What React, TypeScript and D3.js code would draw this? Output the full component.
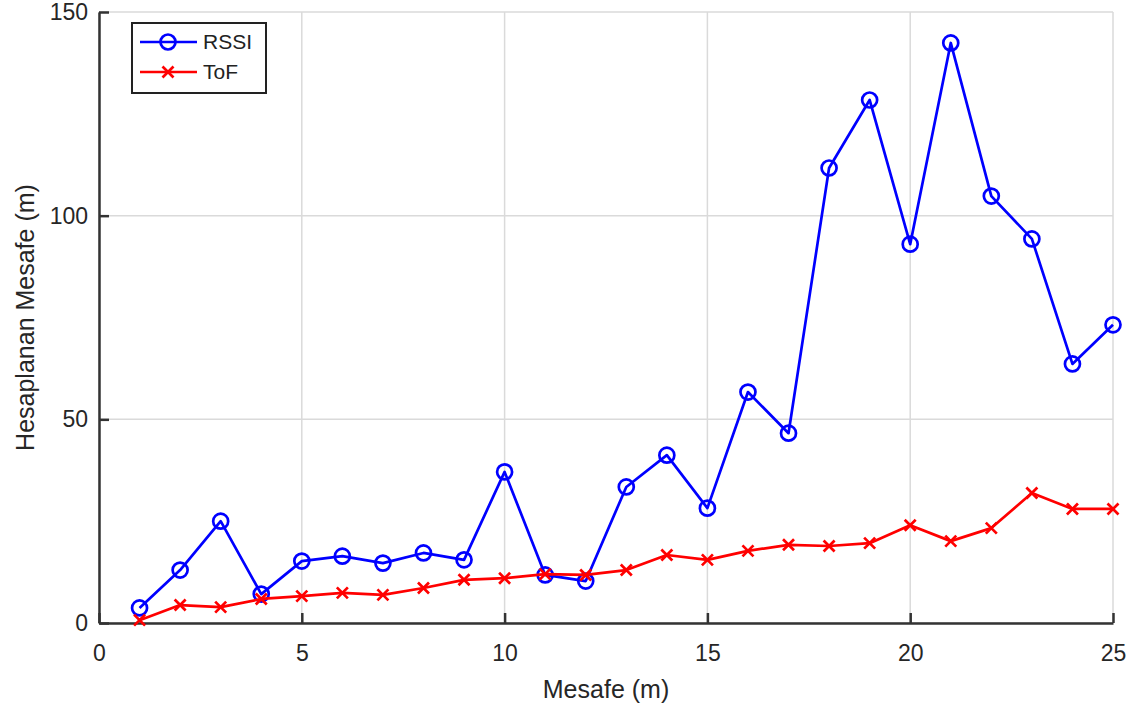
import React, { useEffect, useRef } from 'react';
import * as d3 from 'd3';

// Mesafe (m)
const distances = [1, 2, 3, 4, 5, 6, 7, 8, 9, 10, 11, 12, 13, 14, 15, 16, 17, 18, 19, 20, 21, 22, 23, 24, 25];
const rssiValues = [3.7, 13, 25, 7.1, 15.2, 16.4, 14.7, 17.2, 15.5, 37.1, 11.8, 10.3, 33.4, 41.2, 28.2, 56.7, 46.6, 111.7, 128.4, 93, 142.4, 104.8, 94.3, 63.6, 73.2];
const tofValues = [0.7, 4.4, 3.9, 5.9, 6.6, 7.4, 6.9, 8.6, 10.6, 11, 12, 11.8, 13, 16.7, 15.5, 17.7, 19.2, 18.9, 19.6, 24, 20.1, 23.3, 31.9, 28, 28];
const xTicks = [0, 5, 10, 15, 20, 25];
const yTicks = [0, 50, 100, 150];

const App = () => {
  const svgRef = useRef<SVGSVGElement>(null);

  useEffect(() => {
    const svg = d3.select(svgRef.current);
    svg.selectAll('*').remove();

    const left = 99, right = 1113, top = 12, bottom = 623;
    const font = 'Liberation Sans, Arial, sans-serif';
    const textColor = '#262626';

    const x = d3.scaleLinear().domain([0, 25]).range([left, right]);
    const y = d3.scaleLinear().domain([0, 150]).range([bottom, top]);

    // grid
    const grid = svg.append('g').attr('stroke', '#dadada').attr('stroke-width', 1.5);
    xTicks.forEach(t => {
      grid.append('line').attr('x1', x(t)).attr('x2', x(t)).attr('y1', top).attr('y2', bottom);
    });
    yTicks.forEach(t => {
      grid.append('line').attr('x1', left).attr('x2', right).attr('y1', y(t)).attr('y2', y(t));
    });

    // axes (left and bottom only, ticks inward)
    const xAxis = svg.append('g')
      .attr('transform', `translate(0,${bottom})`)
      .call(d3.axisBottom(x).tickValues(xTicks).tickSizeInner(-10).tickSizeOuter(0).tickPadding(22));
    const yAxis = svg.append('g')
      .attr('transform', `translate(${left},0)`)
      .call(d3.axisLeft(y).tickValues(yTicks).tickSizeInner(-10).tickSizeOuter(0).tickPadding(11));
    [xAxis, yAxis].forEach(a => {
      a.select('.domain').attr('stroke', '#333').attr('stroke-width', 2.5);
      a.selectAll('.tick line').attr('stroke', '#333').attr('stroke-width', 2.5);
      a.selectAll('.tick text').attr('fill', textColor).style('font-family', font).style('font-size', '23px');
    });

    const line = d3.line<number>()
      .x((_, i) => x(distances[i]))
      .y(d => y(d));

    // RSSI
    svg.append('path')
      .datum(rssiValues)
      .attr('fill', 'none')
      .attr('stroke', '#0000ff')
      .attr('stroke-width', 2.7)
      .attr('stroke-linejoin', 'round')
      .attr('d', line);
    svg.append('g').selectAll('circle')
      .data(rssiValues)
      .join('circle')
      .attr('cx', (_, i) => x(distances[i]))
      .attr('cy', d => y(d))
      .attr('r', 7.5)
      .attr('fill', 'none')
      .attr('stroke', '#0000ff')
      .attr('stroke-width', 2.7);

    // ToF
    svg.append('path')
      .datum(tofValues)
      .attr('fill', 'none')
      .attr('stroke', '#ff0000')
      .attr('stroke-width', 2.7)
      .attr('stroke-linejoin', 'round')
      .attr('d', line);
    const s = 5.5;
    svg.append('g').selectAll('path')
      .data(tofValues)
      .join('path')
      .attr('d', (d, i) => {
        const cx = x(distances[i]), cy = y(d);
        return `M${cx - s},${cy - s}L${cx + s},${cy + s}M${cx - s},${cy + s}L${cx + s},${cy - s}`;
      })
      .attr('stroke', '#ff0000')
      .attr('stroke-width', 2.7);

    // axis labels
    svg.append('text')
      .attr('x', (left + right) / 2)
      .attr('y', 698)
      .attr('text-anchor', 'middle')
      .attr('fill', textColor)
      .style('font-family', font)
      .style('font-size', '25px')
      .text('Mesafe (m)');
    svg.append('text')
      .attr('transform', `translate(34,${(top + bottom) / 2}) rotate(-90)`)
      .attr('text-anchor', 'middle')
      .attr('fill', textColor)
      .style('font-family', font)
      .style('font-size', '25px')
      .text('Hesaplanan Mesafe (m)');

    // legend
    const lg = svg.append('g');
    lg.append('rect')
      .attr('x', 132).attr('y', 23).attr('width', 134).attr('height', 70)
      .attr('fill', '#fff').attr('stroke', '#222').attr('stroke-width', 2);
    lg.append('line').attr('x1', 140).attr('x2', 197).attr('y1', 42).attr('y2', 42)
      .attr('stroke', '#0000ff').attr('stroke-width', 2.7);
    lg.append('circle').attr('cx', 168).attr('cy', 42).attr('r', 7.5)
      .attr('fill', 'none').attr('stroke', '#0000ff').attr('stroke-width', 2.7);
    lg.append('line').attr('x1', 140).attr('x2', 197).attr('y1', 72).attr('y2', 72)
      .attr('stroke', '#ff0000').attr('stroke-width', 2.7);
    lg.append('path')
      .attr('d', `M${168 - s},${72 - s}L${168 + s},${72 + s}M${168 - s},${72 + s}L${168 + s},${72 - s}`)
      .attr('stroke', '#ff0000').attr('stroke-width', 2.7);
    lg.append('text').attr('x', 203).attr('y', 42).attr('dy', '0.35em')
      .attr('fill', '#222').style('font-family', font).style('font-size', '21px').text('RSSI');
    lg.append('text').attr('x', 203).attr('y', 72).attr('dy', '0.35em')
      .attr('fill', '#222').style('font-family', font).style('font-size', '21px').text('ToF');
  }, []);

  return (
    <svg ref={svgRef} width={1140} height={711}
      style={{ position: 'absolute', left: 0, top: 0, background: '#fff' }} />
  );
};

export default App;
